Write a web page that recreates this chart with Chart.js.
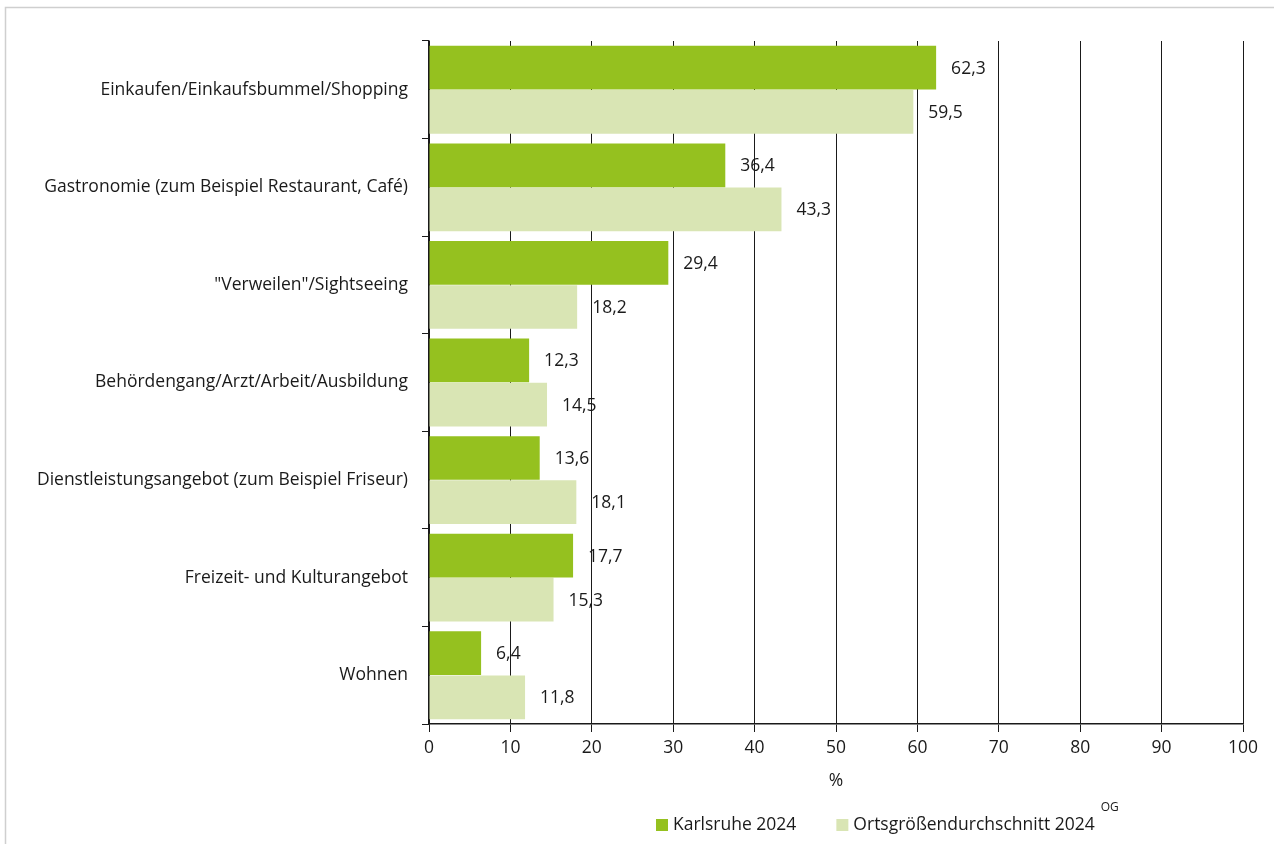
<!DOCTYPE html>
<html lang="de">
<head>
<meta charset="utf-8">
<title>Besuchsgründe Innenstadt</title>
<script src="https://cdn.jsdelivr.net/npm/chart.js@4.4.1/dist/chart.umd.min.js"></script>
<style>
  html, body { margin: 0; padding: 0; background: #ffffff; }
  #wrap { position: relative; width: 1274px; height: 844px; }
</style>
</head>
<body>
<div id="wrap"><canvas id="chart" width="1274" height="844"></canvas></div>
<script>
// Categories (top to bottom)
const categories = [
  'Einkaufen/Einkaufsbummel/Shopping',
  'Gastronomie (zum Beispiel Restaurant, Café)',
  '"Verweilen"/Sightseeing',
  'Behördengang/Arzt/Arbeit/Ausbildung',
  'Dienstleistungsangebot (zum Beispiel Friseur)',
  'Freizeit- und Kulturangebot',
  'Wohnen'
];

// Series values in percent
const karlsruhe2024 = [62.3, 36.4, 29.4, 12.3, 13.6, 17.7, 6.4];
const ortsgroesse2024 = [59.5, 43.3, 18.2, 14.5, 18.1, 15.3, 11.8];

// Series names and legend suffix
const seriesNames = ['Karlsruhe 2024', 'Ortsgrößendurchschnitt 2024'];
const legendSuperscript = 'OG';

// Value axis
const axisMin = 0;
const axisMax = 100;
const axisStep = 10;
const axisTitle = '%';

const FONT = '"Open Sans", "DejaVu Sans", sans-serif';
const FS = 17.5;
const TEXT = '#1a1a1a';
const LINE = '#1a1a1a';
const GREEN = '#95c11f';
const PALE = '#d9e5b4';

const fmt = v => v.toFixed(1).replace('.', ',');

// white background plus the thin grey frame at the top left
const framePlugin = {
  id: 'frame',
  beforeDraw(chart) {
    const ctx = chart.ctx;
    ctx.save();
    ctx.fillStyle = '#ffffff';
    ctx.fillRect(0, 0, chart.width, chart.height);
    ctx.strokeStyle = '#cfcfcf';
    ctx.lineWidth = 1.5;
    ctx.beginPath();
    ctx.moveTo(5.5, chart.height);
    ctx.lineTo(5.5, 7.5);
    ctx.lineTo(chart.width, 7.5);
    ctx.stroke();
    ctx.restore();
  }
};

// numeric labels to the right of each bar
const valueLabelPlugin = {
  id: 'valueLabels',
  afterDatasetsDraw(chart) {
    const ctx = chart.ctx;
    ctx.save();
    ctx.font = FS + 'px ' + FONT;
    ctx.fillStyle = TEXT;
    ctx.textAlign = 'left';
    ctx.textBaseline = 'middle';
    chart.data.datasets.forEach((ds, di) => {
      const meta = chart.getDatasetMeta(di);
      meta.data.forEach((bar, i) => {
        ctx.fillText(fmt(ds.data[i]), bar.x + 15, bar.y + 1);
      });
    });
    ctx.restore();
  }
};

// legend row under the axis title, with the superscript after the second entry
const legendPlugin = {
  id: 'customLegend',
  afterDraw(chart) {
    const ctx = chart.ctx;
    ctx.save();
    ctx.font = FS + 'px ' + FONT;
    ctx.textBaseline = 'middle';
    ctx.textAlign = 'left';
    let x = 656;
    const yMid = 825;
    const box = 12;
    chart.data.datasets.forEach((ds, i) => {
      ctx.fillStyle = ds.backgroundColor;
      ctx.fillRect(x, yMid - box / 2, box, box);
      ctx.fillStyle = TEXT;
      const tx = x + box + 5;
      ctx.fillText(ds.label, tx, yMid);
      const w = ctx.measureText(ds.label).width;
      if (i === chart.data.datasets.length - 1) {
        ctx.font = '12px ' + FONT;
        ctx.fillText(legendSuperscript, tx + w + 6, yMid - 17);
        ctx.font = FS + 'px ' + FONT;
      }
      x = tx + w + 40;
    });
    ctx.restore();
  }
};

new Chart(document.getElementById('chart'), {
  type: 'bar',
  data: {
    labels: categories,
    datasets: [
      { label: seriesNames[0], data: karlsruhe2024, backgroundColor: GREEN, borderWidth: 0 },
      { label: seriesNames[1], data: ortsgroesse2024, backgroundColor: PALE, borderWidth: 0 }
    ]
  },
  options: {
    indexAxis: 'y',
    responsive: false,
    animation: false,
    devicePixelRatio: 1,
    layout: { padding: { top: 41, right: 31, bottom: 50, left: 0 } },
    datasets: { bar: { categoryPercentage: 0.905, barPercentage: 0.99 } },
    plugins: {
      legend: { display: false },
      tooltip: { enabled: false }
    },
    scales: {
      x: {
        type: 'linear',
        position: 'bottom',
        min: axisMin,
        max: axisMax,
        afterFit(scale) { scale.height = 70; },
        ticks: {
          stepSize: axisStep,
          color: TEXT,
          font: { family: FONT, size: FS },
          padding: 6,
          callback: v => String(v)
        },
        grid: {
          color: LINE,
          lineWidth: 1,
          drawOnChartArea: true,
          drawTicks: true,
          tickLength: 8,
          tickColor: LINE
        },
        border: { display: true, color: LINE, width: 1.5 },
        title: {
          display: true,
          text: axisTitle,
          color: TEXT,
          font: { family: FONT, size: FS },
          padding: { top: 4, bottom: 2 }
        }
      },
      y: {
        type: 'category',
        position: 'left',
        afterFit(scale) { scale.width = 429; },
        ticks: {
          color: TEXT,
          font: { family: FONT, size: FS },
          padding: 14
        },
        grid: {
          offset: true,
          color: LINE,
          drawOnChartArea: false,
          drawTicks: true,
          tickLength: 7,
          tickColor: LINE
        },
        border: { display: true, color: LINE, width: 1.5 }
      }
    }
  },
  plugins: [framePlugin, valueLabelPlugin, legendPlugin]
});
</script>
</body>
</html>
